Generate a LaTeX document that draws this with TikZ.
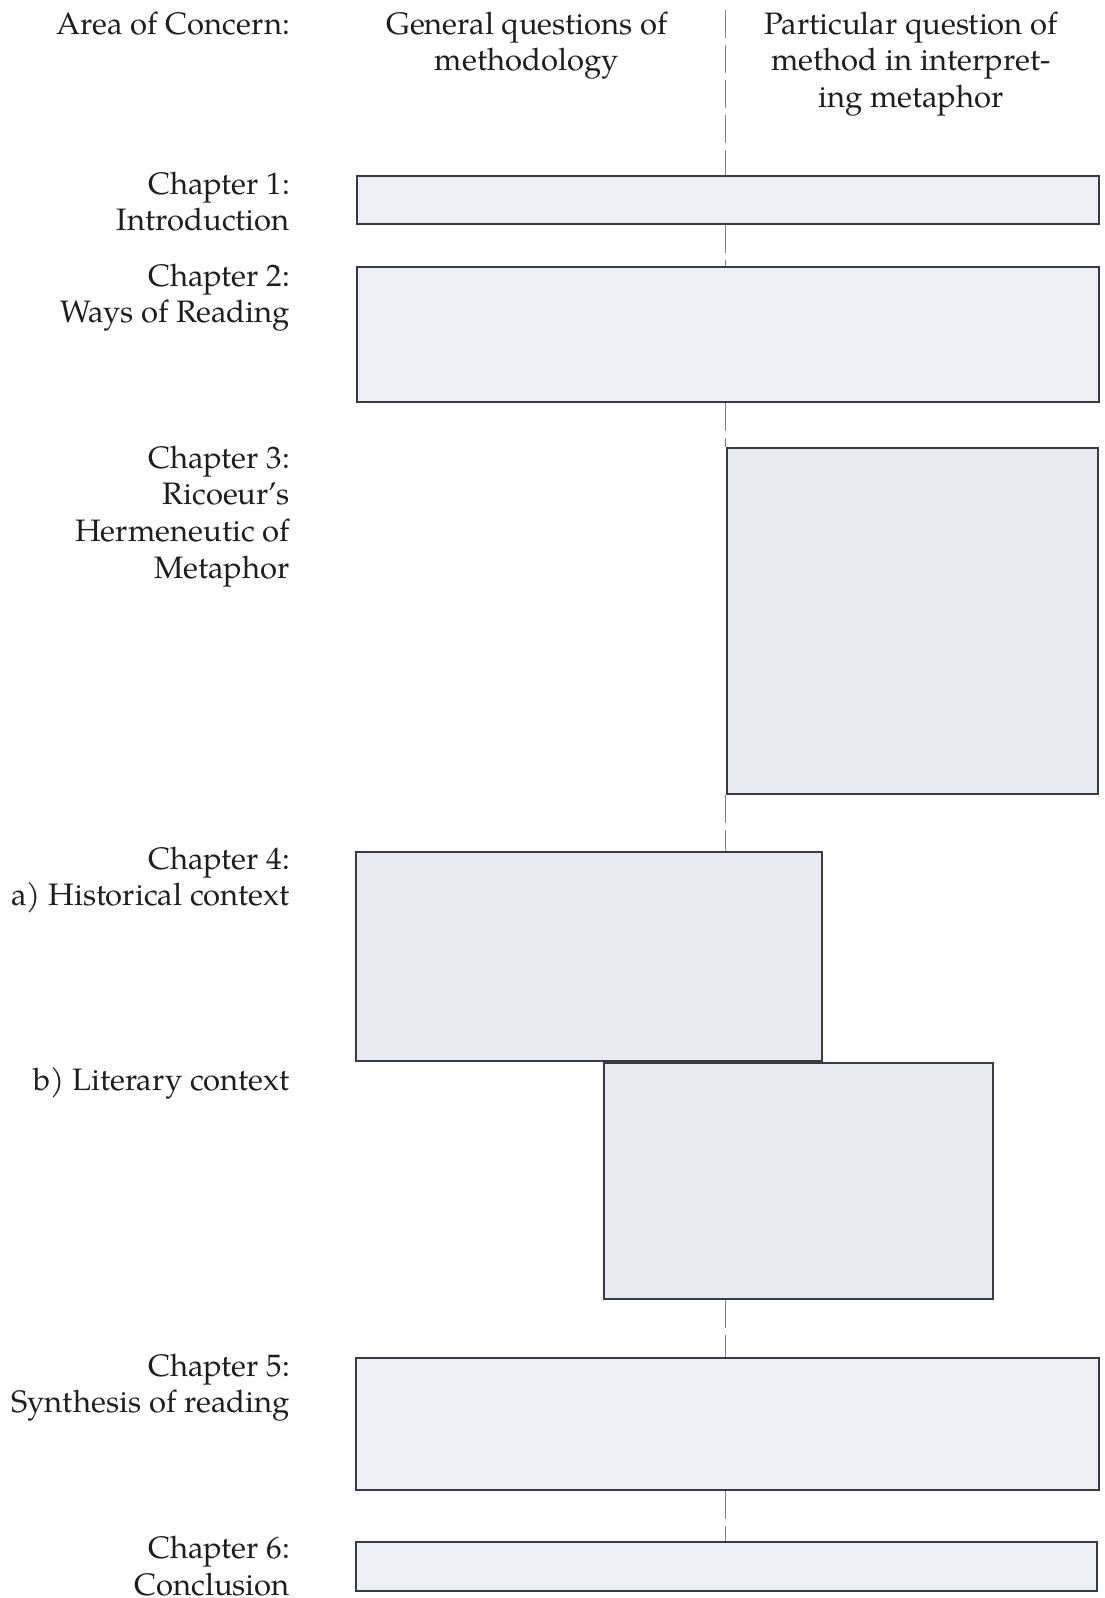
\documentclass[tikz,border=0pt]{standalone}
\usepackage{fontspec}
\setmainfont{TeX Gyre Pagella}
\definecolor{boxfill}{HTML}{EEEEF5}
\definecolor{boxfilldark}{HTML}{E9E9F2}
\definecolor{boxline}{HTML}{3A3A44}
\definecolor{txt}{HTML}{1E1E1E}
\tikzset{
  box/.style={draw=boxline, line width=1.5pt, fill=boxfill, anchor=north west, inner sep=0pt},
  darkbox/.style={box, fill=boxfilldark},
  lab/.style={font=\fontsize{31}{36.8}\selectfont, text=txt, inner sep=0pt, align=right, anchor=base east},
  head/.style={font=\fontsize{31}{36.8}\selectfont, text=txt, inner sep=0pt, align=center, anchor=base},
  link/.style={draw=black!50, line width=0.9pt, dash pattern=on 28pt off 7pt}
}
\begin{document}
\begin{tikzpicture}[x=1pt,y=-1pt]
\useasboundingbox (0,0) rectangle (1104,1598);
% headers (anchor = baseline of last line)
\node[lab] (area) at (290,34) {Area of Concern:};
\node[head] (gen) at (527,70.8) {General questions of\\methodology};
\node[head] (par) at (911,107.6) {Particular question of\\method in interpret-\\ing metaphor};
% boxes
\node[box, minimum width=742pt, minimum height=48pt] (b1) at (356,175) {};
\node[box, minimum width=742pt, minimum height=135pt] (b2) at (356,266) {};
\node[darkbox, minimum width=371pt, minimum height=346pt] (b3) at (726,447) {};
\node[darkbox, minimum width=466pt, minimum height=209pt] (b4a) at (355,851) {};
\node[darkbox, minimum width=389pt, minimum height=236pt] (b4b) at (603,1062) {};
\node[box, minimum width=743pt, minimum height=132pt] (b5) at (355,1357) {};
\node[box, minimum width=741pt, minimum height=49pt] (b6) at (355,1541) {};
% chapter labels (anchor = baseline of last line)
\node[lab] (c1) at (290,230.8) {Chapter 1:\\Introduction};
\node[lab] (c2) at (290,322.8) {Chapter 2:\\Ways of Reading};
\node[lab] (c3) at (290,578.4) {Chapter 3:\\Ricoeur’s\\Hermeneutic of\\Metaphor};
\node[lab] (c4) at (290,905.8) {Chapter 4:\\a) Historical context};
\node[lab] (c4b) at (290,1090) {b) Literary context};
\node[lab] (c5) at (290,1412.8) {Chapter 5:\\Synthesis of reading};
\node[lab] (c6) at (290,1595.5) {Chapter 6:\\Conclusion};
% dashed spine
\coordinate (top) at (725,10);
\draw[link] (top) -- (top |- b1.north);
\draw[link] (top |- b1.south) -- (top |- b2.north);
\draw[link] (top |- b2.south) -- (top |- b3.north);
\draw[link] (top |- b3.south) -- (top |- b4a.north);
\draw[link] (top |- b4b.south) -- (top |- b5.north);
\draw[link] (top |- b5.south) -- (top |- b6.north);
\end{tikzpicture}
\end{document}
